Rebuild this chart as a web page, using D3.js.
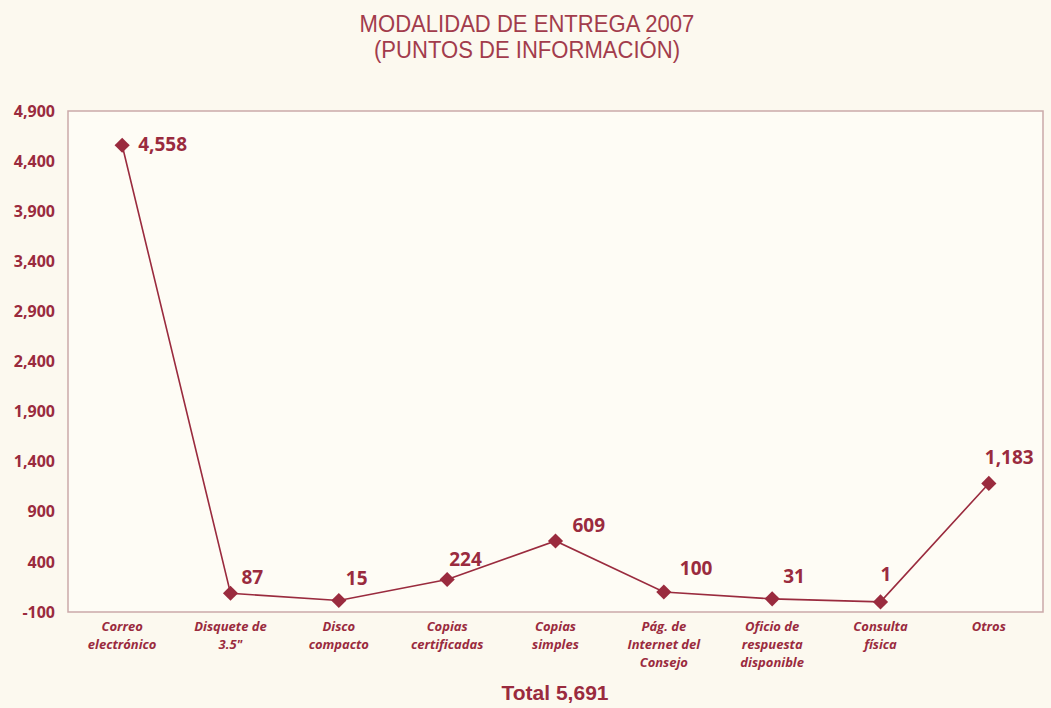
<!DOCTYPE html>
<html lang="en">
<head>
<meta charset="utf-8">
<title>Modalidad de entrega 2007</title>
<script src="https://cdn.jsdelivr.net/npm/d3@7"></script>
<style>
  body { margin: 0; background: #fcf9ef; }
  svg { display: block; }
</style>
</head>
<body>
<div id="chart"></div>
<script>
// data
var categories = [
  ["Correo", "electrónico"],
  ["Disquete de", "3.5\""],
  ["Disco", "compacto"],
  ["Copias", "certificadas"],
  ["Copias", "simples"],
  ["Pág. de", "Internet del", "Consejo"],
  ["Oficio de", "respuesta", "disponible"],
  ["Consulta", "física"],
  ["Otros"]
];
var values = [4558, 87, 15, 224, 609, 100, 31, 1, 1183];
var yTicks = [-100, 400, 900, 1400, 1900, 2400, 2900, 3400, 3900, 4400, 4900];
var titleLines = ["MODALIDAD DE ENTREGA 2007", "(PUNTOS DE INFORMACIÓN)"];
var totalText = "Total 5,691";

// label nudges (layout only)
var labelDx = [16, 11, 7, 2, 17, 16, 11, 0, -4];
var labelDy = [6, -9, -15, -14, -9, -17, -16, -21, -19];

var w = 1051, h = 708;
var margin = {left: 68, right: 8, top: 111, bottom: 96};
var red = "#9a2b3e";

var svg = d3.select("#chart").append("svg")
  .attr("width", w)
  .attr("height", h);

svg.append("rect").attr("width", w).attr("height", h).attr("fill", "#fcf9ef");

var x = d3.scaleBand()
  .domain(d3.range(values.length))
  .range([margin.left, w - margin.right]);

var y = d3.scaleLinear()
  .domain([-100, 4900])
  .range([h - margin.bottom, margin.top]);

// plot frame
svg.append("rect")
  .attr("x", margin.left)
  .attr("y", margin.top)
  .attr("width", w - margin.left - margin.right)
  .attr("height", h - margin.top - margin.bottom)
  .attr("fill", "#fefcf5")
  .attr("stroke", "#caa9a9")
  .attr("stroke-width", 1.5);

// title (narrow look)
svg.selectAll(".title")
  .data(titleLines)
  .enter().append("text")
  .attr("class", "title")
  .attr("transform", function(d, i) { return "translate(527," + (32 + i * 26) + ") scale(0.92,1)"; })
  .attr("text-anchor", "middle")
  .attr("font-family", "'Liberation Sans', Arial, sans-serif")
  .attr("font-size", 24)
  .attr("fill", "#a23c4c")
  .text(function(d) { return d; });

// y axis
var fmt = d3.format(",");
var yAxis = svg.append("g")
  .attr("transform", "translate(" + margin.left + ",0)")
  .call(d3.axisLeft(y).tickValues(yTicks).tickSize(0).tickPadding(13)
    .tickFormat(function(d) { return fmt(d).replace("\u2212", "-"); }));
yAxis.select(".domain").remove();
yAxis.selectAll("text")
  .attr("font-family", "'Open Sans', sans-serif")
  .attr("font-weight", "bold")
  .attr("font-size", 16)
  .attr("fill", red);

// category labels
var cat = svg.selectAll(".cat")
  .data(categories)
  .enter().append("text")
  .attr("class", "cat")
  .attr("text-anchor", "middle")
  .attr("font-family", "'Open Sans', sans-serif")
  .attr("font-weight", "bold")
  .attr("font-style", "italic")
  .attr("font-size", 13)
  .attr("fill", red);
cat.selectAll("tspan")
  .data(function(d, i) { return d.map(function(t) { return {t: t, i: i}; }); })
  .enter().append("tspan")
  .attr("x", function(d) { return x(d.i) + x.bandwidth() / 2; })
  .attr("y", function(d, j) { return 631 + j * 18; })
  .text(function(d) { return d.t; });

// line
var line = d3.line()
  .x(function(d, i) { return x(i) + x.bandwidth() / 2; })
  .y(function(d) { return y(d); });

svg.append("path")
  .datum(values)
  .attr("d", line)
  .attr("fill", "none")
  .attr("stroke", red)
  .attr("stroke-width", 1.6);

// diamonds
svg.selectAll(".pt")
  .data(values)
  .enter().append("path")
  .attr("class", "pt")
  .attr("d", d3.symbol(d3.symbolSquare, 115))
  .attr("transform", function(d, i) {
    return "translate(" + (x(i) + x.bandwidth() / 2) + "," + y(d) + ") rotate(45)";
  })
  .attr("fill", red);

// value labels
svg.selectAll(".val")
  .data(values)
  .enter().append("text")
  .attr("class", "val")
  .attr("x", function(d, i) { return x(i) + x.bandwidth() / 2 + labelDx[i]; })
  .attr("y", function(d, i) { return y(d) + labelDy[i]; })
  .attr("font-family", "'Open Sans', sans-serif")
  .attr("font-weight", "bold")
  .attr("font-size", 19)
  .attr("fill", red)
  .text(function(d) { return fmt(d); });

// total
svg.append("text")
  .attr("x", 555)
  .attr("y", 700)
  .attr("text-anchor", "middle")
  .attr("font-family", "'Liberation Sans', Arial, sans-serif")
  .attr("font-weight", "bold")
  .attr("font-size", 21)
  .attr("fill", red)
  .text(totalText);
</script>
</body>
</html>
